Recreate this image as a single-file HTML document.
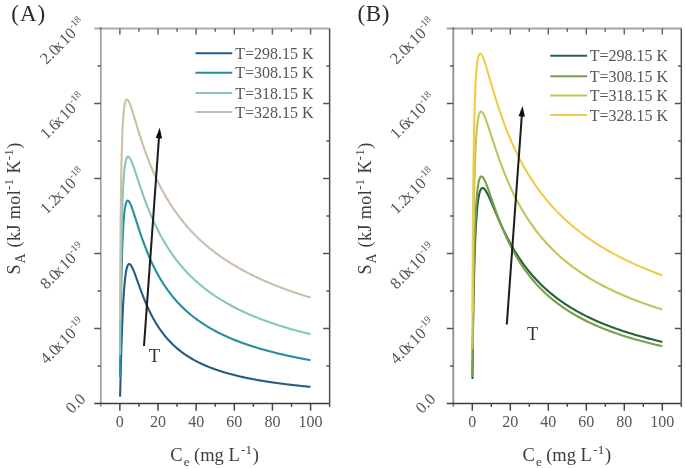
<!DOCTYPE html>
<html><head><meta charset="utf-8"><style>
html,body{margin:0;padding:0;background:#fff;width:685px;height:469px;overflow:hidden;}
body{position:relative;font-family:"Liberation Serif",serif;}
</style></head><body>
<svg width="685" height="469" viewBox="0 0 685 469" style="position:absolute;left:0;top:0"><defs><filter id="bl" x="0" y="0" width="685" height="469" filterUnits="userSpaceOnUse"><feGaussianBlur stdDeviation="0.4"/></filter></defs><rect width="685" height="469" fill="#fff"/><g filter="url(#bl)"><g font-family='"Liberation Serif", serif'><polyline points="120.07,396.81 120.08,396.35 120.10,395.87 120.11,395.36 120.12,394.82 120.14,394.24 120.16,393.62 120.17,392.97 120.19,392.27 120.21,391.53 120.23,390.75 120.25,389.92 120.27,389.04 120.30,388.11 120.32,387.12 120.35,386.07 120.38,384.96 120.41,383.79 120.44,382.56 120.47,381.25 120.51,379.87 120.55,378.42 120.59,376.88 120.63,375.27 120.67,373.58 120.72,371.79 120.77,369.92 120.83,367.96 120.88,365.90 120.94,363.75 121.01,361.50 121.07,359.15 121.14,356.71 121.22,354.16 121.30,351.52 121.38,348.78 121.47,345.94 121.57,343.00 121.67,339.97 121.78,336.86 121.97,331.53 122.16,326.49 122.35,321.74 122.54,317.26 122.73,313.04 122.92,309.08 123.11,305.36 123.30,301.88 123.49,298.62 123.68,295.57 123.87,292.72 124.07,290.07 124.26,287.59 124.45,285.30 124.64,283.16 124.83,281.18 125.02,279.35 125.21,277.67 125.40,276.11 125.59,274.68 125.78,273.36 125.97,272.16 126.16,271.07 126.35,270.07 126.54,269.17 126.74,268.36 126.93,267.64 127.12,266.99 127.31,266.42 127.50,265.92 127.69,265.48 127.88,265.11 128.07,264.80 128.26,264.55 128.45,264.34 128.64,264.19 128.83,264.08 129.02,264.02 129.21,264.00 129.41,264.02 129.60,264.07 129.79,264.16 129.98,264.28 130.17,264.43 130.36,264.61 130.55,264.82 130.74,265.05 130.93,265.31 131.12,265.59 131.31,265.89 131.50,266.20 131.69,266.54 131.88,266.89 132.07,267.26 132.27,267.65 132.46,268.04 132.65,268.45 132.84,268.88 133.03,269.31 133.22,269.75 133.41,270.21 133.60,270.67 133.79,271.14 133.98,271.61 134.17,272.10 134.36,272.59 134.55,273.09 134.74,273.59 134.94,274.09 135.13,274.60 135.32,275.12 135.51,275.64 135.70,276.16 135.89,276.68 136.08,277.21 136.27,277.74 136.46,278.27 136.65,278.80 136.84,279.33 137.03,279.86 137.22,280.40 137.41,280.93 137.61,281.47 137.80,282.00 137.99,282.54 138.18,283.07 138.37,283.61 138.56,284.14 138.75,284.67 138.94,285.20 139.89,287.84 140.85,290.43 141.80,292.98 142.75,295.46 143.71,297.88 144.66,300.24 145.61,302.52 146.57,304.74 147.52,306.89 148.47,308.97 149.43,310.98 150.38,312.93 151.34,314.82 152.29,316.64 153.24,318.40 154.20,320.11 155.15,321.75 156.10,323.35 157.06,324.89 158.01,326.39 158.96,327.83 159.92,329.23 160.87,330.59 161.82,331.90 162.78,333.17 163.73,334.41 164.68,335.60 165.64,336.76 166.59,337.89 167.55,338.98 168.50,340.04 169.45,341.07 170.41,342.07 171.36,343.05 172.31,343.99 173.27,344.91 174.22,345.80 175.17,346.67 176.13,347.52 177.08,348.34 178.03,349.14 178.99,349.92 179.94,350.68 180.89,351.43 181.85,352.15 182.80,352.85 183.75,353.54 184.71,354.21 185.66,354.87 186.62,355.50 187.57,356.13 188.52,356.74 189.48,357.33 190.43,357.91 191.38,358.48 192.34,359.03 193.29,359.58 194.24,360.11 195.20,360.63 196.15,361.13 197.10,361.63 198.06,362.12 199.01,362.59 199.96,363.06 200.92,363.52 201.87,363.96 202.82,364.40 203.78,364.83 204.73,365.25 205.69,365.66 206.64,366.07 207.59,366.46 208.55,366.85 209.50,367.23 210.45,367.61 211.41,367.97 212.36,368.33 213.31,368.69 214.27,369.03 215.22,369.37 216.17,369.71 217.13,370.04 218.08,370.36 219.03,370.68 219.99,370.99 220.94,371.29 221.89,371.59 222.85,371.89 223.80,372.18 224.75,372.47 225.71,372.75 226.66,373.02 227.62,373.29 228.57,373.56 229.52,373.82 230.48,374.08 231.43,374.34 232.38,374.59 233.34,374.83 234.29,375.08 235.24,375.32 236.20,375.55 237.15,375.78 238.10,376.01 239.06,376.24 240.01,376.46 240.96,376.68 241.92,376.89 242.87,377.10 243.82,377.31 244.78,377.52 245.73,377.72 246.69,377.92 247.64,378.12 248.59,378.31 249.55,378.50 250.50,378.69 251.45,378.88 252.41,379.06 253.36,379.24 254.31,379.42 255.27,379.59 256.22,379.77 257.17,379.94 258.13,380.11 259.08,380.28 260.03,380.44 260.99,380.60 261.94,380.76 262.89,380.92 263.85,381.08 264.80,381.23 265.76,381.39 266.71,381.54 267.66,381.68 268.62,381.83 269.57,381.98 270.52,382.12 271.48,382.26 272.43,382.40 273.38,382.54 274.34,382.68 275.29,382.81 276.24,382.94 277.20,383.08 278.15,383.21 279.10,383.33 280.06,383.46 281.01,383.59 281.96,383.71 282.92,383.83 283.87,383.95 284.83,384.07 285.78,384.19 286.73,384.31 287.69,384.43 288.64,384.54 289.59,384.65 290.55,384.77 291.50,384.88 292.45,384.99 293.41,385.10 294.36,385.20 295.31,385.31 296.27,385.41 297.22,385.52 298.17,385.62 299.13,385.72 300.08,385.82 301.04,385.92 301.99,386.02 302.94,386.12 303.90,386.22 304.85,386.31 305.80,386.41 306.76,386.50 307.71,386.59 308.66,386.68 309.62,386.78 310.57,386.87" fill="none" stroke="#285c84" stroke-width="2.1" stroke-linejoin="round"/>
<polyline points="120.04,377.31 120.05,375.95 120.07,374.53 120.08,373.04 120.09,371.48 120.11,369.86 120.12,368.16 120.14,366.38 120.15,364.53 120.17,362.60 120.19,360.59 120.21,358.49 120.23,356.30 120.26,354.03 120.28,351.66 120.31,349.21 120.33,346.66 120.36,344.01 120.40,341.27 120.43,338.44 120.46,335.50 120.50,332.47 120.54,329.34 120.58,326.11 120.63,322.78 120.68,319.36 120.73,315.85 120.78,312.25 120.84,308.56 120.90,304.79 120.97,300.93 121.04,297.01 121.11,293.01 121.19,288.96 121.27,284.85 121.36,280.70 121.46,276.51 121.56,272.30 121.66,268.07 121.78,263.84 121.97,257.30 122.16,251.40 122.35,246.06 122.54,241.23 122.73,236.86 122.92,232.89 123.11,229.30 123.30,226.04 123.49,223.08 123.68,220.41 123.87,217.99 124.07,215.80 124.26,213.83 124.45,212.05 124.64,210.45 124.83,209.01 125.02,207.73 125.21,206.58 125.40,205.57 125.59,204.68 125.78,203.89 125.97,203.21 126.16,202.63 126.35,202.13 126.54,201.71 126.74,201.37 126.93,201.09 127.12,200.89 127.31,200.74 127.50,200.65 127.69,200.61 127.88,200.62 128.07,200.67 128.26,200.77 128.45,200.90 128.64,201.08 128.83,201.28 129.02,201.52 129.21,201.78 129.41,202.08 129.60,202.40 129.79,202.74 129.98,203.10 130.17,203.49 130.36,203.89 130.55,204.31 130.74,204.75 130.93,205.20 131.12,205.66 131.31,206.14 131.50,206.63 131.69,207.13 131.88,207.65 132.07,208.17 132.27,208.70 132.46,209.23 132.65,209.78 132.84,210.33 133.03,210.89 133.22,211.45 133.41,212.02 133.60,212.59 133.79,213.16 133.98,213.74 134.17,214.33 134.36,214.91 134.55,215.50 134.74,216.09 134.94,216.68 135.13,217.27 135.32,217.87 135.51,218.46 135.70,219.06 135.89,219.66 136.08,220.25 136.27,220.85 136.46,221.45 136.65,222.04 136.84,222.64 137.03,223.23 137.22,223.83 137.41,224.42 137.61,225.01 137.80,225.60 137.99,226.19 138.18,226.78 138.37,227.37 138.56,227.95 138.75,228.53 138.94,229.12 139.89,231.99 140.85,234.82 141.80,237.58 142.75,240.28 143.71,242.91 144.66,245.47 145.61,247.97 146.57,250.40 147.52,252.76 148.47,255.06 149.43,257.29 150.38,259.46 151.34,261.58 152.29,263.63 153.24,265.62 154.20,267.56 155.15,269.45 156.10,271.29 157.06,273.07 158.01,274.81 158.96,276.50 159.92,278.15 160.87,279.75 161.82,281.31 162.78,282.84 163.73,284.32 164.68,285.77 165.64,287.18 166.59,288.55 167.55,289.89 168.50,291.20 169.45,292.48 170.41,293.73 171.36,294.95 172.31,296.14 173.27,297.30 174.22,298.44 175.17,299.55 176.13,300.64 177.08,301.70 178.03,302.74 178.99,303.76 179.94,304.75 180.89,305.73 181.85,306.69 182.80,307.62 183.75,308.54 184.71,309.44 185.66,310.32 186.62,311.18 187.57,312.02 188.52,312.85 189.48,313.67 190.43,314.46 191.38,315.25 192.34,316.02 193.29,316.77 194.24,317.51 195.20,318.24 196.15,318.95 197.10,319.65 198.06,320.34 199.01,321.02 199.96,321.69 200.92,322.34 201.87,322.98 202.82,323.61 203.78,324.24 204.73,324.85 205.69,325.45 206.64,326.04 207.59,326.62 208.55,327.19 209.50,327.76 210.45,328.31 211.41,328.86 212.36,329.40 213.31,329.93 214.27,330.45 215.22,330.96 216.17,331.47 217.13,331.96 218.08,332.46 219.03,332.94 219.99,333.42 220.94,333.89 221.89,334.35 222.85,334.81 223.80,335.26 224.75,335.70 225.71,336.14 226.66,336.57 227.62,336.99 228.57,337.42 229.52,337.83 230.48,338.24 231.43,338.64 232.38,339.04 233.34,339.43 234.29,339.82 235.24,340.20 236.20,340.58 237.15,340.95 238.10,341.32 239.06,341.69 240.01,342.05 240.96,342.40 241.92,342.75 242.87,343.10 243.82,343.44 244.78,343.78 245.73,344.11 246.69,344.44 247.64,344.77 248.59,345.09 249.55,345.41 250.50,345.72 251.45,346.03 252.41,346.34 253.36,346.64 254.31,346.94 255.27,347.24 256.22,347.53 257.17,347.82 258.13,348.11 259.08,348.40 260.03,348.68 260.99,348.95 261.94,349.23 262.89,349.50 263.85,349.77 264.80,350.04 265.76,350.30 266.71,350.56 267.66,350.82 268.62,351.07 269.57,351.33 270.52,351.58 271.48,351.82 272.43,352.07 273.38,352.31 274.34,352.55 275.29,352.79 276.24,353.02 277.20,353.26 278.15,353.49 279.10,353.71 280.06,353.94 281.01,354.16 281.96,354.39 282.92,354.61 283.87,354.82 284.83,355.04 285.78,355.25 286.73,355.46 287.69,355.67 288.64,355.88 289.59,356.09 290.55,356.29 291.50,356.49 292.45,356.69 293.41,356.89 294.36,357.09 295.31,357.28 296.27,357.47 297.22,357.67 298.17,357.86 299.13,358.04 300.08,358.23 301.04,358.41 301.99,358.60 302.94,358.78 303.90,358.96 304.85,359.14 305.80,359.31 306.76,359.49 307.71,359.66 308.66,359.83 309.62,360.01 310.57,360.18" fill="none" stroke="#24909e" stroke-width="2.1" stroke-linejoin="round"/>
<polyline points="120.08,354.99 120.09,353.02 120.11,350.97 120.12,348.86 120.13,346.67 120.15,344.41 120.17,342.08 120.18,339.67 120.20,337.18 120.22,334.61 120.24,331.97 120.26,329.24 120.28,326.44 120.31,323.55 120.33,320.58 120.36,317.53 120.39,314.40 120.42,311.19 120.45,307.90 120.49,304.53 120.52,301.08 120.56,297.55 120.60,293.94 120.64,290.27 120.69,286.52 120.73,282.70 120.79,278.82 120.84,274.88 120.89,270.88 120.95,266.82 121.02,262.72 121.08,258.58 121.15,254.40 121.23,250.19 121.31,245.95 121.39,241.70 121.48,237.45 121.57,233.19 121.67,228.94 121.78,224.72 121.97,217.65 122.16,211.32 122.35,205.62 122.54,200.48 122.73,195.85 122.92,191.66 123.11,187.86 123.30,184.43 123.49,181.32 123.68,178.50 123.87,175.95 124.07,173.63 124.26,171.54 124.45,169.65 124.64,167.94 124.83,166.41 125.02,165.02 125.21,163.78 125.40,162.68 125.59,161.69 125.78,160.81 125.97,160.04 126.16,159.36 126.35,158.78 126.54,158.27 126.74,157.84 126.93,157.49 127.12,157.20 127.31,156.97 127.50,156.79 127.69,156.67 127.88,156.60 128.07,156.58 128.26,156.60 128.45,156.66 128.64,156.76 128.83,156.89 129.02,157.05 129.21,157.25 129.41,157.47 129.60,157.72 129.79,158.00 129.98,158.30 130.17,158.62 130.36,158.96 130.55,159.32 130.74,159.70 130.93,160.09 131.12,160.50 131.31,160.92 131.50,161.36 131.69,161.81 131.88,162.27 132.07,162.74 132.27,163.22 132.46,163.71 132.65,164.21 132.84,164.72 133.03,165.23 133.22,165.75 133.41,166.28 133.60,166.82 133.79,167.35 133.98,167.90 134.17,168.45 134.36,169.00 134.55,169.56 134.74,170.12 134.94,170.68 135.13,171.24 135.32,171.81 135.51,172.38 135.70,172.95 135.89,173.53 136.08,174.10 136.27,174.68 136.46,175.26 136.65,175.83 136.84,176.41 137.03,176.99 137.22,177.57 137.41,178.15 137.61,178.73 137.80,179.31 137.99,179.89 138.18,180.46 138.37,181.04 138.56,181.62 138.75,182.19 138.94,182.77 139.89,185.63 140.85,188.45 141.80,191.24 142.75,193.97 143.71,196.66 144.66,199.29 145.61,201.87 146.57,204.39 147.52,206.86 148.47,209.27 149.43,211.62 150.38,213.92 151.34,216.17 152.29,218.36 153.24,220.50 154.20,222.59 155.15,224.63 156.10,226.62 157.06,228.57 158.01,230.47 158.96,232.33 159.92,234.14 160.87,235.92 161.82,237.65 162.78,239.34 163.73,241.00 164.68,242.62 165.64,244.20 166.59,245.75 167.55,247.27 168.50,248.75 169.45,250.21 170.41,251.63 171.36,253.02 172.31,254.39 173.27,255.73 174.22,257.04 175.17,258.32 176.13,259.58 177.08,260.81 178.03,262.02 178.99,263.21 179.94,264.38 180.89,265.52 181.85,266.64 182.80,267.74 183.75,268.82 184.71,269.89 185.66,270.93 186.62,271.95 187.57,272.96 188.52,273.95 189.48,274.92 190.43,275.87 191.38,276.81 192.34,277.74 193.29,278.64 194.24,279.54 195.20,280.41 196.15,281.28 197.10,282.13 198.06,282.97 199.01,283.79 199.96,284.60 200.92,285.40 201.87,286.18 202.82,286.96 203.78,287.72 204.73,288.47 205.69,289.21 206.64,289.94 207.59,290.66 208.55,291.37 209.50,292.06 210.45,292.75 211.41,293.43 212.36,294.10 213.31,294.76 214.27,295.41 215.22,296.05 216.17,296.68 217.13,297.31 218.08,297.92 219.03,298.53 219.99,299.13 220.94,299.72 221.89,300.30 222.85,300.88 223.80,301.45 224.75,302.01 225.71,302.57 226.66,303.11 227.62,303.66 228.57,304.19 229.52,304.72 230.48,305.24 231.43,305.75 232.38,306.26 233.34,306.77 234.29,307.26 235.24,307.75 236.20,308.24 237.15,308.72 238.10,309.19 239.06,309.66 240.01,310.12 240.96,310.58 241.92,311.03 242.87,311.48 243.82,311.93 244.78,312.36 245.73,312.80 246.69,313.22 247.64,313.65 248.59,314.07 249.55,314.48 250.50,314.89 251.45,315.30 252.41,315.70 253.36,316.10 254.31,316.49 255.27,316.88 256.22,317.27 257.17,317.65 258.13,318.03 259.08,318.40 260.03,318.77 260.99,319.14 261.94,319.50 262.89,319.86 263.85,320.21 264.80,320.57 265.76,320.91 266.71,321.26 267.66,321.60 268.62,321.94 269.57,322.28 270.52,322.61 271.48,322.94 272.43,323.26 273.38,323.59 274.34,323.91 275.29,324.22 276.24,324.54 277.20,324.85 278.15,325.16 279.10,325.47 280.06,325.77 281.01,326.07 281.96,326.37 282.92,326.66 283.87,326.95 284.83,327.24 285.78,327.53 286.73,327.82 287.69,328.10 288.64,328.38 289.59,328.66 290.55,328.93 291.50,329.21 292.45,329.48 293.41,329.75 294.36,330.01 295.31,330.28 296.27,330.54 297.22,330.80 298.17,331.06 299.13,331.31 300.08,331.57 301.04,331.82 301.99,332.07 302.94,332.31 303.90,332.56 304.85,332.80 305.80,333.05 306.76,333.29 307.71,333.52 308.66,333.76 309.62,333.99 310.57,334.23" fill="none" stroke="#8ac6b4" stroke-width="2.1" stroke-linejoin="round"/>
<polyline points="120.04,318.51 120.05,315.48 120.06,312.36 120.08,309.16 120.09,305.88 120.10,302.51 120.12,299.05 120.13,295.50 120.15,291.87 120.17,288.15 120.19,284.35 120.21,280.46 120.23,276.49 120.25,272.44 120.28,268.31 120.30,264.10 120.33,259.81 120.36,255.45 120.39,251.02 120.42,246.52 120.46,241.97 120.50,237.35 120.54,232.68 120.58,227.96 120.63,223.20 120.67,218.41 120.72,213.58 120.78,208.73 120.84,203.87 120.90,198.99 120.96,194.12 121.03,189.26 121.11,184.42 121.19,179.60 121.27,174.83 121.36,170.10 121.45,165.43 121.56,160.83 121.66,156.31 121.78,151.89 121.97,145.27 122.16,139.48 122.35,134.39 122.54,129.91 122.73,125.96 122.92,122.46 123.11,119.37 123.30,116.63 123.49,114.20 123.68,112.05 123.87,110.16 124.07,108.48 124.26,107.01 124.45,105.71 124.64,104.58 124.83,103.60 125.02,102.75 125.21,102.02 125.40,101.41 125.59,100.90 125.78,100.48 125.97,100.14 126.16,99.88 126.35,99.70 126.54,99.58 126.74,99.52 126.93,99.51 127.12,99.56 127.31,99.65 127.50,99.79 127.69,99.97 127.88,100.18 128.07,100.43 128.26,100.71 128.45,101.02 128.64,101.36 128.83,101.72 129.02,102.11 129.21,102.51 129.41,102.94 129.60,103.38 129.79,103.85 129.98,104.32 130.17,104.82 130.36,105.32 130.55,105.84 130.74,106.37 130.93,106.91 131.12,107.46 131.31,108.01 131.50,108.58 131.69,109.15 131.88,109.73 132.07,110.32 132.27,110.91 132.46,111.51 132.65,112.11 132.84,112.72 133.03,113.33 133.22,113.94 133.41,114.55 133.60,115.17 133.79,115.79 133.98,116.42 134.17,117.04 134.36,117.66 134.55,118.29 134.74,118.92 134.94,119.55 135.13,120.18 135.32,120.81 135.51,121.43 135.70,122.06 135.89,122.69 136.08,123.32 136.27,123.95 136.46,124.58 136.65,125.20 136.84,125.83 137.03,126.45 137.22,127.07 137.41,127.70 137.61,128.32 137.80,128.94 137.99,129.55 138.18,130.17 138.37,130.78 138.56,131.40 138.75,132.01 138.94,132.61 139.89,135.63 140.85,138.59 141.80,141.50 142.75,144.34 143.71,147.13 144.66,149.85 145.61,152.51 146.57,155.12 147.52,157.66 148.47,160.14 149.43,162.57 150.38,164.94 151.34,167.26 152.29,169.52 153.24,171.73 154.20,173.89 155.15,176.00 156.10,178.06 157.06,180.08 158.01,182.05 158.96,183.98 159.92,185.87 160.87,187.71 161.82,189.52 162.78,191.29 163.73,193.02 164.68,194.71 165.64,196.37 166.59,198.00 167.55,199.60 168.50,201.16 169.45,202.69 170.41,204.20 171.36,205.67 172.31,207.11 173.27,208.53 174.22,209.93 175.17,211.29 176.13,212.63 177.08,213.95 178.03,215.25 178.99,216.52 179.94,217.77 180.89,219.00 181.85,220.20 182.80,221.39 183.75,222.55 184.71,223.70 185.66,224.83 186.62,225.94 187.57,227.03 188.52,228.11 189.48,229.16 190.43,230.21 191.38,231.23 192.34,232.24 193.29,233.23 194.24,234.21 195.20,235.18 196.15,236.13 197.10,237.06 198.06,237.99 199.01,238.89 199.96,239.79 200.92,240.67 201.87,241.55 202.82,242.40 203.78,243.25 204.73,244.09 205.69,244.91 206.64,245.73 207.59,246.53 208.55,247.32 209.50,248.10 210.45,248.87 211.41,249.63 212.36,250.39 213.31,251.13 214.27,251.86 215.22,252.58 216.17,253.30 217.13,254.01 218.08,254.70 219.03,255.39 219.99,256.07 220.94,256.74 221.89,257.41 222.85,258.07 223.80,258.71 224.75,259.36 225.71,259.99 226.66,260.62 227.62,261.24 228.57,261.85 229.52,262.46 230.48,263.06 231.43,263.65 232.38,264.23 233.34,264.81 234.29,265.39 235.24,265.95 236.20,266.52 237.15,267.07 238.10,267.62 239.06,268.17 240.01,268.70 240.96,269.24 241.92,269.76 242.87,270.29 243.82,270.80 244.78,271.31 245.73,271.82 246.69,272.32 247.64,272.82 248.59,273.31 249.55,273.80 250.50,274.28 251.45,274.75 252.41,275.23 253.36,275.70 254.31,276.16 255.27,276.62 256.22,277.07 257.17,277.53 258.13,277.97 259.08,278.42 260.03,278.85 260.99,279.29 261.94,279.72 262.89,280.15 263.85,280.57 264.80,280.99 265.76,281.40 266.71,281.82 267.66,282.23 268.62,282.63 269.57,283.03 270.52,283.43 271.48,283.82 272.43,284.22 273.38,284.60 274.34,284.99 275.29,285.37 276.24,285.75 277.20,286.12 278.15,286.50 279.10,286.86 280.06,287.23 281.01,287.59 281.96,287.95 282.92,288.31 283.87,288.67 284.83,289.02 285.78,289.37 286.73,289.71 287.69,290.06 288.64,290.40 289.59,290.74 290.55,291.07 291.50,291.40 292.45,291.73 293.41,292.06 294.36,292.39 295.31,292.71 296.27,293.03 297.22,293.35 298.17,293.66 299.13,293.98 300.08,294.29 301.04,294.60 301.99,294.91 302.94,295.21 303.90,295.51 304.85,295.81 305.80,296.11 306.76,296.41 307.71,296.70 308.66,296.99 309.62,297.28 310.57,297.57" fill="none" stroke="#ccbfaa" stroke-width="2.1" stroke-linejoin="round"/>
<line x1="100.8" y1="28.5" x2="100.8" y2="406.8" stroke="#a2a2a2" stroke-width="1.8"/>
<line x1="94.3" y1="28.5" x2="329.64" y2="28.5" stroke="#ababab" stroke-width="1.8"/>
<rect x="99.8" y="27.5" width="2" height="2" fill="#6a6a6a"/>
<line x1="94.3" y1="403.5" x2="329.64" y2="403.5" stroke="#3c3c3c" stroke-width="1.5"/>
<line x1="329.64" y1="28.5" x2="329.64" y2="403.5" stroke="#505050" stroke-width="1.5"/>
<line x1="119.87" y1="403.5" x2="119.87" y2="410.7" stroke="#444" stroke-width="1.5"/>
<line x1="119.87" y1="28.5" x2="119.87" y2="34.5" stroke="#666" stroke-width="1.5"/>
<text x="119.87" y="427" font-size="16" text-anchor="middle" fill="#555555">0</text>
<line x1="138.94" y1="403.5" x2="138.94" y2="406.8" stroke="#444" stroke-width="1.5"/>
<line x1="138.94" y1="28.5" x2="138.94" y2="31.8" stroke="#666" stroke-width="1.5"/>
<line x1="158.01" y1="403.5" x2="158.01" y2="410.7" stroke="#444" stroke-width="1.5"/>
<line x1="158.01" y1="28.5" x2="158.01" y2="34.5" stroke="#666" stroke-width="1.5"/>
<text x="158.01" y="427" font-size="16" text-anchor="middle" fill="#555555">20</text>
<line x1="177.08" y1="403.5" x2="177.08" y2="406.8" stroke="#444" stroke-width="1.5"/>
<line x1="177.08" y1="28.5" x2="177.08" y2="31.8" stroke="#666" stroke-width="1.5"/>
<line x1="196.15" y1="403.5" x2="196.15" y2="410.7" stroke="#444" stroke-width="1.5"/>
<line x1="196.15" y1="28.5" x2="196.15" y2="34.5" stroke="#666" stroke-width="1.5"/>
<text x="196.15" y="427" font-size="16" text-anchor="middle" fill="#555555">40</text>
<line x1="215.22" y1="403.5" x2="215.22" y2="406.8" stroke="#444" stroke-width="1.5"/>
<line x1="215.22" y1="28.5" x2="215.22" y2="31.8" stroke="#666" stroke-width="1.5"/>
<line x1="234.29" y1="403.5" x2="234.29" y2="410.7" stroke="#444" stroke-width="1.5"/>
<line x1="234.29" y1="28.5" x2="234.29" y2="34.5" stroke="#666" stroke-width="1.5"/>
<text x="234.29" y="427" font-size="16" text-anchor="middle" fill="#555555">60</text>
<line x1="253.36" y1="403.5" x2="253.36" y2="406.8" stroke="#444" stroke-width="1.5"/>
<line x1="253.36" y1="28.5" x2="253.36" y2="31.8" stroke="#666" stroke-width="1.5"/>
<line x1="272.43" y1="403.5" x2="272.43" y2="410.7" stroke="#444" stroke-width="1.5"/>
<line x1="272.43" y1="28.5" x2="272.43" y2="34.5" stroke="#666" stroke-width="1.5"/>
<text x="272.43" y="427" font-size="16" text-anchor="middle" fill="#555555">80</text>
<line x1="291.50" y1="403.5" x2="291.50" y2="406.8" stroke="#444" stroke-width="1.5"/>
<line x1="291.50" y1="28.5" x2="291.50" y2="31.8" stroke="#666" stroke-width="1.5"/>
<line x1="310.57" y1="403.5" x2="310.57" y2="410.7" stroke="#444" stroke-width="1.5"/>
<line x1="310.57" y1="28.5" x2="310.57" y2="34.5" stroke="#666" stroke-width="1.5"/>
<text x="310.57" y="427" font-size="16" text-anchor="middle" fill="#555555">100</text>
<line x1="329.64" y1="403.5" x2="329.64" y2="406.8" stroke="#444" stroke-width="1.5"/>
<text x="86.50" y="399.90" font-size="16.3" text-anchor="end" fill="#555555" transform="rotate(-45 86.50 399.90)">0.0</text>
<line x1="97.6" y1="366.00" x2="100.8" y2="366.00" stroke="#555" stroke-width="1.5"/>
<line x1="326.44" y1="366.00" x2="329.64" y2="366.00" stroke="#555" stroke-width="1.5"/>
<line x1="94.3" y1="328.50" x2="100.8" y2="328.50" stroke="#555" stroke-width="1.5"/>
<line x1="323.14" y1="328.50" x2="329.64" y2="328.50" stroke="#555" stroke-width="1.5"/>
<text x="86.50" y="324.90" font-size="16.3" text-anchor="end" fill="#555555" transform="rotate(-45 86.50 324.90)">4.0<tspan dx="-2.6">x</tspan><tspan dx="1.2">10</tspan><tspan dy="-7" font-size="10">-19</tspan></text>
<line x1="97.6" y1="291.00" x2="100.8" y2="291.00" stroke="#555" stroke-width="1.5"/>
<line x1="326.44" y1="291.00" x2="329.64" y2="291.00" stroke="#555" stroke-width="1.5"/>
<line x1="94.3" y1="253.50" x2="100.8" y2="253.50" stroke="#555" stroke-width="1.5"/>
<line x1="323.14" y1="253.50" x2="329.64" y2="253.50" stroke="#555" stroke-width="1.5"/>
<text x="86.50" y="249.90" font-size="16.3" text-anchor="end" fill="#555555" transform="rotate(-45 86.50 249.90)">8.0<tspan dx="-2.6">x</tspan><tspan dx="1.2">10</tspan><tspan dy="-7" font-size="10">-19</tspan></text>
<line x1="97.6" y1="216.00" x2="100.8" y2="216.00" stroke="#555" stroke-width="1.5"/>
<line x1="326.44" y1="216.00" x2="329.64" y2="216.00" stroke="#555" stroke-width="1.5"/>
<line x1="94.3" y1="178.50" x2="100.8" y2="178.50" stroke="#555" stroke-width="1.5"/>
<line x1="323.14" y1="178.50" x2="329.64" y2="178.50" stroke="#555" stroke-width="1.5"/>
<text x="86.50" y="174.90" font-size="16.3" text-anchor="end" fill="#555555" transform="rotate(-45 86.50 174.90)">1.2<tspan dx="-2.6">x</tspan><tspan dx="1.2">10</tspan><tspan dy="-7" font-size="10">-18</tspan></text>
<line x1="97.6" y1="141.00" x2="100.8" y2="141.00" stroke="#555" stroke-width="1.5"/>
<line x1="326.44" y1="141.00" x2="329.64" y2="141.00" stroke="#555" stroke-width="1.5"/>
<line x1="94.3" y1="103.50" x2="100.8" y2="103.50" stroke="#555" stroke-width="1.5"/>
<line x1="323.14" y1="103.50" x2="329.64" y2="103.50" stroke="#555" stroke-width="1.5"/>
<text x="86.50" y="99.90" font-size="16.3" text-anchor="end" fill="#555555" transform="rotate(-45 86.50 99.90)">1.6<tspan dx="-2.6">x</tspan><tspan dx="1.2">10</tspan><tspan dy="-7" font-size="10">-18</tspan></text>
<line x1="97.6" y1="66.00" x2="100.8" y2="66.00" stroke="#555" stroke-width="1.5"/>
<line x1="326.44" y1="66.00" x2="329.64" y2="66.00" stroke="#555" stroke-width="1.5"/>
<text x="86.50" y="24.90" font-size="16.3" text-anchor="end" fill="#555555" transform="rotate(-45 86.50 24.90)">2.0<tspan dx="-2.6">x</tspan><tspan dx="1.2">10</tspan><tspan dy="-7" font-size="10">-18</tspan></text>
<line x1="195.5" y1="53.3" x2="232.2" y2="53.3" stroke="#285c84" stroke-width="2.0"/>
<line x1="195.5" y1="72.8" x2="232.2" y2="72.8" stroke="#24909e" stroke-width="2.0"/>
<line x1="195.5" y1="93.0" x2="232.2" y2="93.0" stroke="#8ac6b4" stroke-width="2.0"/>
<line x1="195.5" y1="112.0" x2="232.2" y2="112.0" stroke="#ccbfaa" stroke-width="2.0"/>
<text x="235.2" y="58.8" font-size="16" fill="#555555">T=<tspan>298.15</tspan> K</text>
<text x="235.2" y="78.3" font-size="16" fill="#555555">T=<tspan>308.15</tspan> K</text>
<text x="235.2" y="98.5" font-size="16" fill="#555555">T=<tspan>318.15</tspan> K</text>
<text x="235.2" y="117.5" font-size="16" fill="#555555">T=<tspan>328.15</tspan> K</text>
<line x1="144.0" y1="346.0" x2="159.02" y2="137.18" stroke="#1a1a1a" stroke-width="2"/>
<polygon points="159.7,127.7 162.14,138.40 155.76,137.94" fill="#111"/>
<text x="154.5" y="362.0" font-size="18.5" text-anchor="middle" fill="#333">T</text>
<text x="11.3" y="21" font-size="23" letter-spacing="1.0" fill="#2a2a2a">(A)</text>
<text y="461" font-size="18.5" fill="#3c3c3c"><tspan x="170.3">C</tspan><tspan x="183.7" dy="5" font-size="13">e</tspan><tspan x="194.0" dy="-5">(mg L</tspan><tspan x="241.1" dy="-7.5" font-size="13">-1</tspan><tspan x="252.8" dy="7.5">)</tspan></text>
<text x="0" y="0" font-size="18" letter-spacing="0.45" fill="#3c3c3c" transform="translate(19.6 274.5) rotate(-90)">S<tspan dx="0.5" dy="5.5" font-size="14">A</tspan><tspan dx="0.5" dy="-5.5"> (kJ mol</tspan><tspan font-size="12.5" dy="-7">-1</tspan><tspan dy="7"> K</tspan><tspan font-size="12.5" dy="-7">-1</tspan><tspan dy="7">)</tspan></text></g><g font-family='"Liberation Serif", serif'><polyline points="472.47,378.99 472.48,377.74 472.49,376.43 472.50,375.05 472.51,373.61 472.53,372.11 472.54,370.54 472.56,368.90 472.57,367.19 472.59,365.40 472.61,363.53 472.63,361.59 472.65,359.56 472.68,357.45 472.70,355.26 472.72,352.97 472.75,350.60 472.78,348.13 472.81,345.57 472.85,342.92 472.88,340.17 472.92,337.32 472.96,334.37 473.00,331.33 473.05,328.18 473.09,324.94 473.14,321.59 473.20,318.15 473.26,314.61 473.32,310.98 473.38,307.26 473.45,303.44 473.53,299.55 473.61,295.57 473.69,291.51 473.78,287.39 473.88,283.20 473.98,278.95 474.09,274.65 474.20,270.32 474.39,263.65 474.58,257.53 474.77,251.91 474.96,246.73 475.15,241.96 475.34,237.55 475.53,233.48 475.72,229.72 475.91,226.23 476.10,223.01 476.29,220.02 476.48,217.25 476.67,214.69 476.86,212.31 477.05,210.11 477.24,208.07 477.43,206.18 477.62,204.43 477.81,202.82 478.00,201.32 478.19,199.94 478.38,198.67 478.57,197.50 478.76,196.42 478.95,195.44 479.14,194.53 479.33,193.70 479.52,192.95 479.71,192.26 479.90,191.64 480.09,191.08 480.28,190.58 480.47,190.13 480.66,189.73 480.85,189.38 481.04,189.08 481.23,188.82 481.42,188.60 481.61,188.41 481.80,188.27 481.99,188.16 482.18,188.08 482.37,188.03 482.56,188.01 482.75,188.01 482.94,188.05 483.13,188.11 483.32,188.19 483.51,188.29 483.70,188.41 483.89,188.56 484.08,188.72 484.27,188.90 484.46,189.09 484.65,189.31 484.84,189.53 485.03,189.77 485.22,190.03 485.41,190.29 485.60,190.57 485.79,190.86 485.98,191.17 486.17,191.48 486.36,191.80 486.55,192.13 486.74,192.47 486.93,192.81 487.12,193.17 487.31,193.53 487.50,193.90 487.69,194.27 487.88,194.65 488.07,195.04 488.26,195.43 488.45,195.83 488.64,196.23 488.83,196.63 489.02,197.04 489.21,197.46 489.40,197.88 489.59,198.30 489.78,198.72 489.97,199.15 490.16,199.58 490.35,200.01 490.54,200.44 490.73,200.88 490.92,201.32 491.11,201.76 491.30,202.20 492.25,204.43 493.20,206.67 494.15,208.93 495.10,211.18 496.05,213.42 497.00,215.64 497.95,217.84 498.90,220.01 499.85,222.15 500.80,224.26 501.75,226.33 502.70,228.37 503.65,230.37 504.60,232.33 505.55,234.26 506.50,236.15 507.45,238.00 508.40,239.81 509.35,241.59 510.30,243.34 511.25,245.04 512.20,246.72 513.15,248.36 514.10,249.96 515.05,251.54 516.00,253.08 516.95,254.59 517.90,256.07 518.85,257.52 519.80,258.94 520.75,260.33 521.70,261.70 522.65,263.04 523.60,264.35 524.55,265.64 525.50,266.90 526.45,268.14 527.40,269.35 528.35,270.55 529.30,271.72 530.25,272.86 531.20,273.99 532.15,275.10 533.10,276.19 534.05,277.25 535.00,278.30 535.95,279.33 536.90,280.34 537.85,281.34 538.80,282.31 539.75,283.27 540.70,284.22 541.65,285.15 542.60,286.06 543.55,286.96 544.50,287.84 545.45,288.71 546.40,289.56 547.35,290.40 548.30,291.23 549.25,292.04 550.20,292.84 551.15,293.63 552.10,294.41 553.05,295.17 554.00,295.93 554.95,296.67 555.90,297.40 556.85,298.12 557.80,298.83 558.75,299.53 559.70,300.22 560.65,300.90 561.60,301.56 562.55,302.22 563.50,302.87 564.45,303.52 565.40,304.15 566.35,304.77 567.30,305.39 568.25,305.99 569.20,306.59 570.15,307.18 571.10,307.77 572.05,308.34 573.00,308.91 573.95,309.47 574.90,310.02 575.85,310.57 576.80,311.11 577.75,311.64 578.70,312.16 579.65,312.68 580.60,313.19 581.55,313.70 582.50,314.20 583.45,314.69 584.40,315.18 585.35,315.66 586.30,316.14 587.25,316.61 588.20,317.07 589.15,317.53 590.10,317.99 591.05,318.44 592.00,318.88 592.95,319.32 593.90,319.75 594.85,320.18 595.80,320.61 596.75,321.03 597.70,321.44 598.65,321.85 599.60,322.26 600.55,322.66 601.50,323.05 602.45,323.45 603.40,323.83 604.35,324.22 605.30,324.60 606.25,324.98 607.20,325.35 608.15,325.72 609.10,326.08 610.05,326.44 611.00,326.80 611.95,327.15 612.90,327.50 613.85,327.85 614.80,328.19 615.75,328.53 616.70,328.87 617.65,329.20 618.60,329.53 619.55,329.86 620.50,330.18 621.45,330.50 622.40,330.82 623.35,331.13 624.30,331.44 625.25,331.75 626.20,332.06 627.15,332.36 628.10,332.66 629.05,332.96 630.00,333.25 630.95,333.54 631.90,333.83 632.85,334.12 633.80,334.40 634.75,334.68 635.70,334.96 636.65,335.24 637.60,335.51 638.55,335.78 639.50,336.05 640.45,336.32 641.40,336.58 642.35,336.84 643.30,337.10 644.25,337.36 645.20,337.61 646.15,337.87 647.10,338.12 648.05,338.37 649.00,338.61 649.95,338.86 650.90,339.10 651.85,339.34 652.80,339.58 653.75,339.82 654.70,340.05 655.65,340.29 656.60,340.52 657.55,340.75 658.50,340.97 659.45,341.20 660.40,341.42 661.35,341.65 662.30,341.87" fill="none" stroke="#26633c" stroke-width="2.1" stroke-linejoin="round"/>
<polyline points="472.46,377.01 472.47,375.62 472.49,374.17 472.50,372.65 472.51,371.05 472.52,369.39 472.54,367.64 472.55,365.82 472.57,363.92 472.59,361.93 472.61,359.85 472.63,357.69 472.65,355.43 472.67,353.08 472.70,350.63 472.72,348.08 472.75,345.44 472.78,342.68 472.81,339.83 472.84,336.86 472.88,333.79 472.91,330.61 472.95,327.32 473.00,323.92 473.04,320.42 473.09,316.80 473.14,313.07 473.19,309.24 473.25,305.31 473.31,301.27 473.38,297.14 473.45,292.91 473.52,288.60 473.60,284.20 473.69,279.72 473.78,275.18 473.87,270.58 473.98,265.93 474.08,261.24 474.20,256.53 474.39,249.34 474.58,242.79 474.77,236.80 474.96,231.33 475.15,226.31 475.34,221.72 475.53,217.50 475.72,213.63 475.91,210.08 476.10,206.82 476.29,203.82 476.48,201.07 476.67,198.55 476.86,196.23 477.05,194.10 477.24,192.16 477.43,190.38 477.62,188.75 477.81,187.27 478.00,185.91 478.19,184.68 478.38,183.57 478.57,182.56 478.76,181.66 478.95,180.84 479.14,180.12 479.33,179.47 479.52,178.90 479.71,178.41 479.90,177.98 480.09,177.61 480.28,177.30 480.47,177.05 480.66,176.84 480.85,176.69 481.04,176.58 481.23,176.52 481.42,176.49 481.61,176.51 481.80,176.56 481.99,176.64 482.18,176.75 482.37,176.89 482.56,177.06 482.75,177.26 482.94,177.48 483.13,177.73 483.32,177.99 483.51,178.28 483.70,178.58 483.89,178.91 484.08,179.25 484.27,179.60 484.46,179.97 484.65,180.36 484.84,180.75 485.03,181.16 485.22,181.59 485.41,182.02 485.60,182.46 485.79,182.91 485.98,183.37 486.17,183.84 486.36,184.32 486.55,184.80 486.74,185.29 486.93,185.79 487.12,186.29 487.31,186.80 487.50,187.31 487.69,187.83 487.88,188.35 488.07,188.87 488.26,189.40 488.45,189.93 488.64,190.47 488.83,191.00 489.02,191.54 489.21,192.08 489.40,192.63 489.59,193.17 489.78,193.72 489.97,194.27 490.16,194.82 490.35,195.37 490.54,195.92 490.73,196.47 490.92,197.02 491.11,197.57 491.30,198.13 492.25,200.88 493.20,203.63 494.15,206.35 495.10,209.03 496.05,211.68 497.00,214.28 497.95,216.83 498.90,219.34 499.85,221.79 500.80,224.20 501.75,226.55 502.70,228.84 503.65,231.09 504.60,233.28 505.55,235.42 506.50,237.52 507.45,239.56 508.40,241.56 509.35,243.51 510.30,245.41 511.25,247.27 512.20,249.09 513.15,250.87 514.10,252.60 515.05,254.30 516.00,255.95 516.95,257.57 517.90,259.16 518.85,260.70 519.80,262.22 520.75,263.70 521.70,265.15 522.65,266.57 523.60,267.95 524.55,269.31 525.50,270.64 526.45,271.95 527.40,273.22 528.35,274.47 529.30,275.70 530.25,276.90 531.20,278.07 532.15,279.23 533.10,280.36 534.05,281.47 535.00,282.55 535.95,283.62 536.90,284.67 537.85,285.70 538.80,286.71 539.75,287.70 540.70,288.67 541.65,289.63 542.60,290.56 543.55,291.49 544.50,292.39 545.45,293.28 546.40,294.16 547.35,295.02 548.30,295.86 549.25,296.69 550.20,297.51 551.15,298.31 552.10,299.11 553.05,299.88 554.00,300.65 554.95,301.40 555.90,302.14 556.85,302.88 557.80,303.59 558.75,304.30 559.70,305.00 560.65,305.69 561.60,306.36 562.55,307.03 563.50,307.68 564.45,308.33 565.40,308.97 566.35,309.60 567.30,310.21 568.25,310.82 569.20,311.43 570.15,312.02 571.10,312.60 572.05,313.18 573.00,313.75 573.95,314.31 574.90,314.87 575.85,315.41 576.80,315.95 577.75,316.48 578.70,317.01 579.65,317.53 580.60,318.04 581.55,318.54 582.50,319.04 583.45,319.53 584.40,320.02 585.35,320.50 586.30,320.97 587.25,321.44 588.20,321.90 589.15,322.36 590.10,322.81 591.05,323.25 592.00,323.69 592.95,324.13 593.90,324.56 594.85,324.98 595.80,325.40 596.75,325.82 597.70,326.23 598.65,326.63 599.60,327.04 600.55,327.43 601.50,327.82 602.45,328.21 603.40,328.60 604.35,328.97 605.30,329.35 606.25,329.72 607.20,330.09 608.15,330.45 609.10,330.81 610.05,331.16 611.00,331.52 611.95,331.86 612.90,332.21 613.85,332.55 614.80,332.89 615.75,333.22 616.70,333.55 617.65,333.88 618.60,334.20 619.55,334.52 620.50,334.84 621.45,335.15 622.40,335.46 623.35,335.77 624.30,336.07 625.25,336.38 626.20,336.67 627.15,336.97 628.10,337.26 629.05,337.55 630.00,337.84 630.95,338.13 631.90,338.41 632.85,338.69 633.80,338.97 634.75,339.24 635.70,339.51 636.65,339.78 637.60,340.05 638.55,340.31 639.50,340.57 640.45,340.83 641.40,341.09 642.35,341.35 643.30,341.60 644.25,341.85 645.20,342.10 646.15,342.35 647.10,342.59 648.05,342.83 649.00,343.07 649.95,343.31 650.90,343.55 651.85,343.78 652.80,344.01 653.75,344.24 654.70,344.47 655.65,344.70 656.60,344.92 657.55,345.14 658.50,345.36 659.45,345.58 660.40,345.80 661.35,346.01 662.30,346.23" fill="none" stroke="#7a9e48" stroke-width="2.1" stroke-linejoin="round"/>
<polyline points="472.47,349.11 472.49,346.80 472.50,344.40 472.51,341.92 472.52,339.35 472.54,336.69 472.55,333.93 472.57,331.09 472.58,328.14 472.60,325.10 472.62,321.96 472.64,318.72 472.66,315.38 472.69,311.94 472.71,308.39 472.74,304.74 472.76,300.99 472.79,297.13 472.82,293.18 472.86,289.12 472.89,284.96 472.93,280.70 472.97,276.34 473.01,271.89 473.06,267.35 473.11,262.72 473.16,258.00 473.21,253.21 473.27,248.34 473.33,243.40 473.39,238.40 473.46,233.34 473.54,228.24 473.62,223.09 473.70,217.91 473.79,212.72 473.88,207.51 473.98,202.30 474.09,197.10 474.20,191.93 474.39,183.96 474.58,176.80 474.77,170.35 474.96,164.53 475.15,159.26 475.34,154.49 475.53,150.15 475.72,146.21 475.91,142.62 476.10,139.36 476.29,136.39 476.48,133.68 476.67,131.22 476.86,128.97 477.05,126.94 477.24,125.08 477.43,123.40 477.62,121.87 477.81,120.50 478.00,119.25 478.19,118.13 478.38,117.13 478.57,116.23 478.76,115.43 478.95,114.72 479.14,114.10 479.33,113.56 479.52,113.09 479.71,112.69 479.90,112.36 480.09,112.09 480.28,111.87 480.47,111.71 480.66,111.60 480.85,111.53 481.04,111.51 481.23,111.52 481.42,111.58 481.61,111.67 481.80,111.79 481.99,111.95 482.18,112.13 482.37,112.34 482.56,112.58 482.75,112.84 482.94,113.13 483.13,113.44 483.32,113.76 483.51,114.11 483.70,114.47 483.89,114.85 484.08,115.25 484.27,115.66 484.46,116.08 484.65,116.52 484.84,116.97 485.03,117.43 485.22,117.90 485.41,118.38 485.60,118.87 485.79,119.36 485.98,119.87 486.17,120.38 486.36,120.91 486.55,121.43 486.74,121.97 486.93,122.51 487.12,123.05 487.31,123.60 487.50,124.15 487.69,124.71 487.88,125.27 488.07,125.84 488.26,126.41 488.45,126.98 488.64,127.55 488.83,128.13 489.02,128.70 489.21,129.28 489.40,129.87 489.59,130.45 489.78,131.03 489.97,131.62 490.16,132.21 490.35,132.79 490.54,133.38 490.73,133.97 490.92,134.56 491.11,135.15 491.30,135.74 492.25,138.68 493.20,141.61 494.15,144.51 495.10,147.38 496.05,150.21 497.00,153.00 497.95,155.75 498.90,158.44 499.85,161.09 500.80,163.68 501.75,166.23 502.70,168.72 503.65,171.17 504.60,173.56 505.55,175.91 506.50,178.20 507.45,180.45 508.40,182.65 509.35,184.81 510.30,186.92 511.25,188.98 512.20,191.01 513.15,192.99 514.10,194.93 515.05,196.83 516.00,198.69 516.95,200.52 517.90,202.30 518.85,204.06 519.80,205.77 520.75,207.46 521.70,209.11 522.65,210.73 523.60,212.32 524.55,213.88 525.50,215.41 526.45,216.91 527.40,218.38 528.35,219.83 529.30,221.25 530.25,222.65 531.20,224.02 532.15,225.36 533.10,226.68 534.05,227.98 535.00,229.26 535.95,230.52 536.90,231.75 537.85,232.96 538.80,234.16 539.75,235.33 540.70,236.49 541.65,237.62 542.60,238.74 543.55,239.84 544.50,240.92 545.45,241.99 546.40,243.04 547.35,244.07 548.30,245.09 549.25,246.09 550.20,247.08 551.15,248.05 552.10,249.01 553.05,249.96 554.00,250.89 554.95,251.80 555.90,252.71 556.85,253.60 557.80,254.48 558.75,255.35 559.70,256.20 560.65,257.05 561.60,257.88 562.55,258.70 563.50,259.51 564.45,260.31 565.40,261.10 566.35,261.87 567.30,262.64 568.25,263.40 569.20,264.15 570.15,264.89 571.10,265.62 572.05,266.34 573.00,267.05 573.95,267.75 574.90,268.45 575.85,269.13 576.80,269.81 577.75,270.48 578.70,271.14 579.65,271.80 580.60,272.44 581.55,273.08 582.50,273.71 583.45,274.34 584.40,274.95 585.35,275.56 586.30,276.17 587.25,276.76 588.20,277.35 589.15,277.94 590.10,278.51 591.05,279.08 592.00,279.65 592.95,280.21 593.90,280.76 594.85,281.31 595.80,281.85 596.75,282.38 597.70,282.91 598.65,283.43 599.60,283.95 600.55,284.47 601.50,284.97 602.45,285.48 603.40,285.97 604.35,286.47 605.30,286.95 606.25,287.44 607.20,287.92 608.15,288.39 609.10,288.86 610.05,289.32 611.00,289.78 611.95,290.24 612.90,290.69 613.85,291.14 614.80,291.58 615.75,292.02 616.70,292.45 617.65,292.88 618.60,293.31 619.55,293.73 620.50,294.15 621.45,294.57 622.40,294.98 623.35,295.39 624.30,295.79 625.25,296.19 626.20,296.59 627.15,296.98 628.10,297.37 629.05,297.76 630.00,298.14 630.95,298.52 631.90,298.90 632.85,299.27 633.80,299.64 634.75,300.01 635.70,300.37 636.65,300.73 637.60,301.09 638.55,301.45 639.50,301.80 640.45,302.15 641.40,302.49 642.35,302.84 643.30,303.18 644.25,303.52 645.20,303.85 646.15,304.19 647.10,304.52 648.05,304.84 649.00,305.17 649.95,305.49 650.90,305.81 651.85,306.13 652.80,306.44 653.75,306.76 654.70,307.07 655.65,307.37 656.60,307.68 657.55,307.98 658.50,308.28 659.45,308.58 660.40,308.88 661.35,309.17 662.30,309.47" fill="none" stroke="#c2c556" stroke-width="2.1" stroke-linejoin="round"/>
<polyline points="472.47,312.99 472.49,309.72 472.50,306.35 472.51,302.88 472.52,299.32 472.54,295.65 472.55,291.89 472.57,288.03 472.59,284.07 472.60,280.01 472.62,275.85 472.64,271.59 472.66,267.23 472.69,262.78 472.71,258.22 472.74,253.58 472.77,248.84 472.79,244.01 472.83,239.09 472.86,234.09 472.89,229.01 472.93,223.85 472.97,218.62 473.01,213.31 473.06,207.95 473.11,202.53 473.16,197.06 473.21,191.55 473.27,186.00 473.33,180.43 473.40,174.83 473.46,169.22 473.54,163.61 473.62,158.02 473.70,152.44 473.79,146.89 473.88,141.38 473.98,135.93 474.09,130.54 474.20,125.23 474.39,117.15 474.58,110.00 474.77,103.66 474.96,98.01 475.15,92.97 475.34,88.46 475.53,84.42 475.72,80.80 475.91,77.54 476.10,74.62 476.29,71.99 476.48,69.63 476.67,67.52 476.86,65.62 477.05,63.92 477.24,62.41 477.43,61.06 477.62,59.86 477.81,58.80 478.00,57.86 478.19,57.05 478.38,56.34 478.57,55.73 478.76,55.21 478.95,54.78 479.14,54.42 479.33,54.14 479.52,53.92 479.71,53.77 479.90,53.67 480.09,53.63 480.28,53.64 480.47,53.69 480.66,53.79 480.85,53.92 481.04,54.10 481.23,54.31 481.42,54.55 481.61,54.82 481.80,55.12 481.99,55.45 482.18,55.80 482.37,56.17 482.56,56.57 482.75,56.99 482.94,57.42 483.13,57.87 483.32,58.34 483.51,58.82 483.70,59.32 483.89,59.83 484.08,60.35 484.27,60.89 484.46,61.43 484.65,61.99 484.84,62.55 485.03,63.12 485.22,63.70 485.41,64.29 485.60,64.88 485.79,65.48 485.98,66.09 486.17,66.70 486.36,67.32 486.55,67.94 486.74,68.56 486.93,69.19 487.12,69.82 487.31,70.46 487.50,71.09 487.69,71.73 487.88,72.38 488.07,73.02 488.26,73.66 488.45,74.31 488.64,74.96 488.83,75.61 489.02,76.26 489.21,76.91 489.40,77.56 489.59,78.21 489.78,78.86 489.97,79.51 490.16,80.16 490.35,80.81 490.54,81.47 490.73,82.12 490.92,82.76 491.11,83.41 491.30,84.06 492.25,87.28 493.20,90.47 494.15,93.62 495.10,96.72 496.05,99.77 497.00,102.77 497.95,105.71 498.90,108.60 499.85,111.43 500.80,114.21 501.75,116.93 502.70,119.59 503.65,122.20 504.60,124.75 505.55,127.25 506.50,129.70 507.45,132.10 508.40,134.45 509.35,136.75 510.30,139.01 511.25,141.21 512.20,143.38 513.15,145.50 514.10,147.57 515.05,149.61 516.00,151.60 516.95,153.56 517.90,155.48 518.85,157.36 519.80,159.21 520.75,161.02 521.70,162.80 522.65,164.55 523.60,166.26 524.55,167.94 525.50,169.59 526.45,171.22 527.40,172.81 528.35,174.38 529.30,175.92 530.25,177.43 531.20,178.92 532.15,180.38 533.10,181.82 534.05,183.23 535.00,184.62 535.95,185.99 536.90,187.34 537.85,188.66 538.80,189.97 539.75,191.25 540.70,192.51 541.65,193.76 542.60,194.99 543.55,196.19 544.50,197.38 545.45,198.56 546.40,199.71 547.35,200.85 548.30,201.97 549.25,203.08 550.20,204.17 551.15,205.24 552.10,206.30 553.05,207.35 554.00,208.38 554.95,209.40 555.90,210.40 556.85,211.39 557.80,212.37 558.75,213.33 559.70,214.28 560.65,215.22 561.60,216.15 562.55,217.06 563.50,217.97 564.45,218.86 565.40,219.74 566.35,220.61 567.30,221.47 568.25,222.32 569.20,223.16 570.15,223.99 571.10,224.81 572.05,225.62 573.00,226.42 573.95,227.21 574.90,227.99 575.85,228.77 576.80,229.53 577.75,230.29 578.70,231.04 579.65,231.77 580.60,232.51 581.55,233.23 582.50,233.94 583.45,234.65 584.40,235.35 585.35,236.04 586.30,236.73 587.25,237.40 588.20,238.07 589.15,238.74 590.10,239.39 591.05,240.04 592.00,240.69 592.95,241.32 593.90,241.95 594.85,242.58 595.80,243.20 596.75,243.81 597.70,244.41 598.65,245.01 599.60,245.61 600.55,246.19 601.50,246.78 602.45,247.35 603.40,247.93 604.35,248.49 605.30,249.05 606.25,249.61 607.20,250.16 608.15,250.70 609.10,251.24 610.05,251.78 611.00,252.31 611.95,252.84 612.90,253.36 613.85,253.87 614.80,254.39 615.75,254.89 616.70,255.40 617.65,255.90 618.60,256.39 619.55,256.88 620.50,257.37 621.45,257.85 622.40,258.33 623.35,258.80 624.30,259.27 625.25,259.73 626.20,260.20 627.15,260.65 628.10,261.11 629.05,261.56 630.00,262.01 630.95,262.45 631.90,262.89 632.85,263.33 633.80,263.76 634.75,264.19 635.70,264.61 636.65,265.04 637.60,265.46 638.55,265.87 639.50,266.28 640.45,266.69 641.40,267.10 642.35,267.50 643.30,267.90 644.25,268.30 645.20,268.70 646.15,269.09 647.10,269.48 648.05,269.86 649.00,270.25 649.95,270.63 650.90,271.00 651.85,271.38 652.80,271.75 653.75,272.12 654.70,272.48 655.65,272.85 656.60,273.21 657.55,273.57 658.50,273.92 659.45,274.28 660.40,274.63 661.35,274.98 662.30,275.32" fill="none" stroke="#f0cb4c" stroke-width="2.1" stroke-linejoin="round"/>
<line x1="453.3" y1="28.5" x2="453.3" y2="406.8" stroke="#8e8e8e" stroke-width="1.8"/>
<line x1="446.8" y1="28.5" x2="681.3" y2="28.5" stroke="#a2a2a2" stroke-width="1.8"/>
<rect x="452.3" y="27.5" width="2" height="2" fill="#6a6a6a"/>
<line x1="446.8" y1="403.5" x2="681.3" y2="403.5" stroke="#3c3c3c" stroke-width="1.5"/>
<line x1="681.3" y1="28.5" x2="681.3" y2="403.5" stroke="#505050" stroke-width="1.5"/>
<line x1="472.30" y1="403.5" x2="472.30" y2="410.7" stroke="#444" stroke-width="1.5"/>
<line x1="472.30" y1="28.5" x2="472.30" y2="34.5" stroke="#666" stroke-width="1.5"/>
<text x="472.30" y="427" font-size="16" text-anchor="middle" fill="#555555">0</text>
<line x1="491.30" y1="403.5" x2="491.30" y2="406.8" stroke="#444" stroke-width="1.5"/>
<line x1="491.30" y1="28.5" x2="491.30" y2="31.8" stroke="#666" stroke-width="1.5"/>
<line x1="510.30" y1="403.5" x2="510.30" y2="410.7" stroke="#444" stroke-width="1.5"/>
<line x1="510.30" y1="28.5" x2="510.30" y2="34.5" stroke="#666" stroke-width="1.5"/>
<text x="510.30" y="427" font-size="16" text-anchor="middle" fill="#555555">20</text>
<line x1="529.30" y1="403.5" x2="529.30" y2="406.8" stroke="#444" stroke-width="1.5"/>
<line x1="529.30" y1="28.5" x2="529.30" y2="31.8" stroke="#666" stroke-width="1.5"/>
<line x1="548.30" y1="403.5" x2="548.30" y2="410.7" stroke="#444" stroke-width="1.5"/>
<line x1="548.30" y1="28.5" x2="548.30" y2="34.5" stroke="#666" stroke-width="1.5"/>
<text x="548.30" y="427" font-size="16" text-anchor="middle" fill="#555555">40</text>
<line x1="567.30" y1="403.5" x2="567.30" y2="406.8" stroke="#444" stroke-width="1.5"/>
<line x1="567.30" y1="28.5" x2="567.30" y2="31.8" stroke="#666" stroke-width="1.5"/>
<line x1="586.30" y1="403.5" x2="586.30" y2="410.7" stroke="#444" stroke-width="1.5"/>
<line x1="586.30" y1="28.5" x2="586.30" y2="34.5" stroke="#666" stroke-width="1.5"/>
<text x="586.30" y="427" font-size="16" text-anchor="middle" fill="#555555">60</text>
<line x1="605.30" y1="403.5" x2="605.30" y2="406.8" stroke="#444" stroke-width="1.5"/>
<line x1="605.30" y1="28.5" x2="605.30" y2="31.8" stroke="#666" stroke-width="1.5"/>
<line x1="624.30" y1="403.5" x2="624.30" y2="410.7" stroke="#444" stroke-width="1.5"/>
<line x1="624.30" y1="28.5" x2="624.30" y2="34.5" stroke="#666" stroke-width="1.5"/>
<text x="624.30" y="427" font-size="16" text-anchor="middle" fill="#555555">80</text>
<line x1="643.30" y1="403.5" x2="643.30" y2="406.8" stroke="#444" stroke-width="1.5"/>
<line x1="643.30" y1="28.5" x2="643.30" y2="31.8" stroke="#666" stroke-width="1.5"/>
<line x1="662.30" y1="403.5" x2="662.30" y2="410.7" stroke="#444" stroke-width="1.5"/>
<line x1="662.30" y1="28.5" x2="662.30" y2="34.5" stroke="#666" stroke-width="1.5"/>
<text x="662.30" y="427" font-size="16" text-anchor="middle" fill="#555555">100</text>
<line x1="681.30" y1="403.5" x2="681.30" y2="406.8" stroke="#444" stroke-width="1.5"/>
<text x="436.50" y="399.90" font-size="16.3" text-anchor="end" fill="#555555" transform="rotate(-45 436.50 399.90)">0.0</text>
<line x1="450.1" y1="366.00" x2="453.3" y2="366.00" stroke="#555" stroke-width="1.5"/>
<line x1="678.0999999999999" y1="366.00" x2="681.3" y2="366.00" stroke="#555" stroke-width="1.5"/>
<line x1="446.8" y1="328.50" x2="453.3" y2="328.50" stroke="#555" stroke-width="1.5"/>
<line x1="674.8" y1="328.50" x2="681.3" y2="328.50" stroke="#555" stroke-width="1.5"/>
<text x="436.50" y="324.90" font-size="16.3" text-anchor="end" fill="#555555" transform="rotate(-45 436.50 324.90)">4.0<tspan dx="-2.6">x</tspan><tspan dx="1.2">10</tspan><tspan dy="-7" font-size="10">-19</tspan></text>
<line x1="450.1" y1="291.00" x2="453.3" y2="291.00" stroke="#555" stroke-width="1.5"/>
<line x1="678.0999999999999" y1="291.00" x2="681.3" y2="291.00" stroke="#555" stroke-width="1.5"/>
<line x1="446.8" y1="253.50" x2="453.3" y2="253.50" stroke="#555" stroke-width="1.5"/>
<line x1="674.8" y1="253.50" x2="681.3" y2="253.50" stroke="#555" stroke-width="1.5"/>
<text x="436.50" y="249.90" font-size="16.3" text-anchor="end" fill="#555555" transform="rotate(-45 436.50 249.90)">8.0<tspan dx="-2.6">x</tspan><tspan dx="1.2">10</tspan><tspan dy="-7" font-size="10">-19</tspan></text>
<line x1="450.1" y1="216.00" x2="453.3" y2="216.00" stroke="#555" stroke-width="1.5"/>
<line x1="678.0999999999999" y1="216.00" x2="681.3" y2="216.00" stroke="#555" stroke-width="1.5"/>
<line x1="446.8" y1="178.50" x2="453.3" y2="178.50" stroke="#555" stroke-width="1.5"/>
<line x1="674.8" y1="178.50" x2="681.3" y2="178.50" stroke="#555" stroke-width="1.5"/>
<text x="436.50" y="174.90" font-size="16.3" text-anchor="end" fill="#555555" transform="rotate(-45 436.50 174.90)">1.2<tspan dx="-2.6">x</tspan><tspan dx="1.2">10</tspan><tspan dy="-7" font-size="10">-18</tspan></text>
<line x1="450.1" y1="141.00" x2="453.3" y2="141.00" stroke="#555" stroke-width="1.5"/>
<line x1="678.0999999999999" y1="141.00" x2="681.3" y2="141.00" stroke="#555" stroke-width="1.5"/>
<line x1="446.8" y1="103.50" x2="453.3" y2="103.50" stroke="#555" stroke-width="1.5"/>
<line x1="674.8" y1="103.50" x2="681.3" y2="103.50" stroke="#555" stroke-width="1.5"/>
<text x="436.50" y="99.90" font-size="16.3" text-anchor="end" fill="#555555" transform="rotate(-45 436.50 99.90)">1.6<tspan dx="-2.6">x</tspan><tspan dx="1.2">10</tspan><tspan dy="-7" font-size="10">-18</tspan></text>
<line x1="450.1" y1="66.00" x2="453.3" y2="66.00" stroke="#555" stroke-width="1.5"/>
<line x1="678.0999999999999" y1="66.00" x2="681.3" y2="66.00" stroke="#555" stroke-width="1.5"/>
<text x="436.50" y="24.90" font-size="16.3" text-anchor="end" fill="#555555" transform="rotate(-45 436.50 24.90)">2.0<tspan dx="-2.6">x</tspan><tspan dx="1.2">10</tspan><tspan dy="-7" font-size="10">-18</tspan></text>
<line x1="550.3" y1="55.7" x2="587.2" y2="55.7" stroke="#26633c" stroke-width="2.0"/>
<line x1="550.3" y1="76.2" x2="587.2" y2="76.2" stroke="#7a9e48" stroke-width="2.0"/>
<line x1="550.3" y1="95.6" x2="587.2" y2="95.6" stroke="#c2c556" stroke-width="2.0"/>
<line x1="550.3" y1="115.0" x2="587.2" y2="115.0" stroke="#f0cb4c" stroke-width="2.0"/>
<text x="589.7" y="61.2" font-size="16" fill="#555555">T=<tspan>298.15</tspan> K</text>
<text x="589.7" y="81.7" font-size="16" fill="#555555">T=<tspan>308.15</tspan> K</text>
<text x="589.7" y="101.1" font-size="16" fill="#555555">T=<tspan>318.15</tspan> K</text>
<text x="589.7" y="120.5" font-size="16" fill="#555555">T=<tspan>328.15</tspan> K</text>
<line x1="506.8" y1="324.5" x2="521.82" y2="115.48" stroke="#1a1a1a" stroke-width="2"/>
<polygon points="522.5,106.0 524.94,116.70 518.56,116.24" fill="#111"/>
<text x="532.6" y="339.8" font-size="18.5" text-anchor="middle" fill="#333">T</text>
<text x="357.6" y="21.2" font-size="23" letter-spacing="0.55" fill="#2a2a2a">(B)</text>
<text y="461" font-size="18.5" fill="#3c3c3c"><tspan x="522.5">C</tspan><tspan x="535.9" dy="5" font-size="13">e</tspan><tspan x="546.2" dy="-5">(mg L</tspan><tspan x="593.3" dy="-7.5" font-size="13">-1</tspan><tspan x="605.0" dy="7.5">)</tspan></text>
<text x="0" y="0" font-size="18" letter-spacing="0.45" fill="#3c3c3c" transform="translate(370.7 274.5) rotate(-90)">S<tspan dx="0.5" dy="5.5" font-size="14">A</tspan><tspan dx="0.5" dy="-5.5"> (kJ mol</tspan><tspan font-size="12.5" dy="-7">-1</tspan><tspan dy="7"> K</tspan><tspan font-size="12.5" dy="-7">-1</tspan><tspan dy="7">)</tspan></text></g></g></svg>
</body></html>
